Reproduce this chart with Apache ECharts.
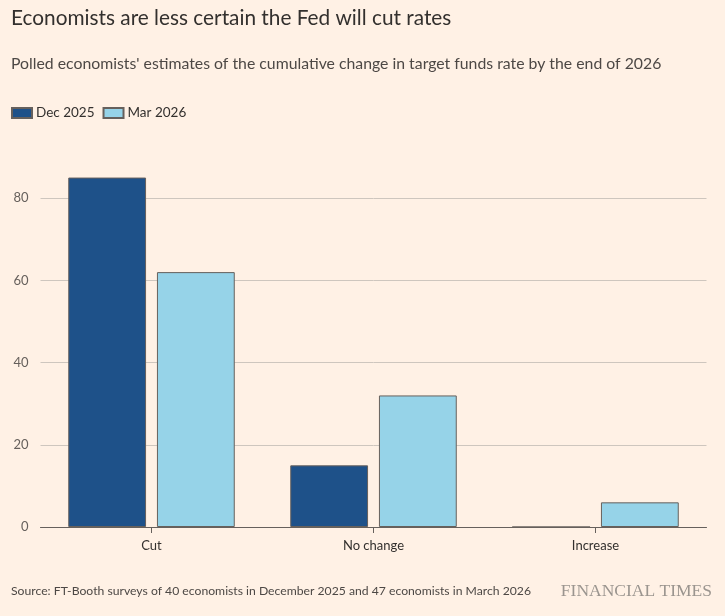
<!DOCTYPE html>
<html>
<head>
<meta charset="utf-8">
<script src="https://cdn.jsdelivr.net/npm/echarts@6/dist/echarts.min.js"></script>
<style>
html,body{margin:0;padding:0;background:#FFF1E5;}
#c{width:725px;height:616px;}
</style>
</head>
<body>
<div id="c"></div>
<script>
const categories = ['Cut', 'No change', 'Increase'];
const seriesNames = ['Dec 2025', 'Mar 2026'];
const dec2025 = [85, 15, 0];
const mar2026 = [62, 32, 6];
const yTicks = [0, 20, 40, 60, 80];

const chart = echarts.init(document.getElementById('c'), null, {renderer: 'canvas'});
const FONT = 'Lato';
chart.setOption({
  backgroundColor: '#FFF1E5',
  animation: false,
  textStyle: {fontFamily: FONT},
  title: [
    {text: 'Economists are less certain the Fed will cut rates', left: 6, top: 3,
     textStyle: {fontFamily: FONT, fontSize: 20.8, fontWeight: 'normal', color: '#33302E'}},
    {text: "Polled economists' estimates of the cumulative change in target funds rate by the end of 2026", left: 6, top: 51,
     textStyle: {fontFamily: FONT, fontSize: 15.8, fontWeight: 'normal', color: '#4D4845'}},
    {text: 'Source: FT-Booth surveys of 40 economists in December 2025 and 47 economists in March 2026', left: 6, top: 580,
     textStyle: {fontFamily: FONT, fontSize: 12.2, fontWeight: 'normal', color: '#4D4845'}},
    {text: 'FINANCIAL TIMES', right: 8, top: 577,
     textStyle: {fontFamily: 'Liberation Serif', fontSize: 17.5, fontWeight: 'normal', color: '#9B958F'}}
  ],
  legend: {
    data: seriesNames, left: 6, top: 101, itemWidth: 20, itemHeight: 10, itemGap: 8,
    icon: 'rect',
    textStyle: {fontFamily: FONT, fontSize: 13.5, color: '#33302E', padding: [0, 0, 0, -1]}
  },
  grid: {left: 40.5, right: 18.5, top: 157, bottom: 89, containLabel: false},
  xAxis: {
    type: 'category', data: categories,
    axisLine: {lineStyle: {color: '#66605C', width: 1}},
    axisTick: {show: true, alignWithLabel: true, length: 6, lineStyle: {color: '#66605C'}},
    axisLabel: {fontFamily: FONT, fontSize: 13, color: '#33302E', margin: 12}
  },
  yAxis: {
    type: 'value', min: 0, max: 90, interval: 20,
    axisLine: {show: false}, axisTick: {show: false},
    axisLabel: {fontFamily: FONT, fontSize: 13, color: '#66605C', margin: 12, showMaxLabel: false,
      formatter: v => yTicks.includes(v) ? String(v) : ''},
    splitLine: {lineStyle: {color: '#CEC6BE', width: 1}, showMaxLine: false}
  },
  series: [
    {name: seriesNames[0], type: 'bar', data: dec2025, barGap: '14%', barCategoryGap: '25%',
     itemStyle: {color: '#1E5189', borderColor: '#66605C', borderWidth: 1}},
    {name: seriesNames[1], type: 'bar', data: mar2026, barGap: '14%', barCategoryGap: '25%',
     itemStyle: {color: '#96D3E8', borderColor: '#66605C', borderWidth: 1}}
  ]
});
</script>
</body>
</html>
